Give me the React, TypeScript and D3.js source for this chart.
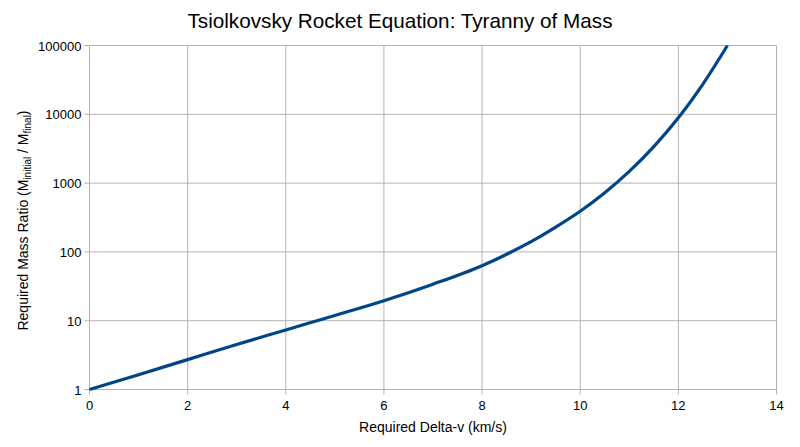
import React from "react";
import * as d3 from "d3";

const deltaV = [0, 1, 2, 3, 4, 5, 6, 7, 8, 9, 9.5, 10, 10.5, 11, 11.5, 12, 12.5, 13];
const massRatio = [1, 1.64, 2.72, 4.52, 7.33, 11.9, 19.5, 33.9, 63, 141, 229, 389, 724, 1480, 3390, 8900, 27500, 100000];
const xTicks = [0, 2, 4, 6, 8, 10, 12, 14];
const yTicks = [1, 10, 100, 1000, 10000, 100000];

const W = 800;
const H = 447;
const M = { left: 89.5, right: 776.5, top: 45.5, bottom: 389.5 };
const FONT = "'Liberation Sans', Arial, Helvetica, sans-serif";

export default function App() {
  const x = d3.scaleLinear().domain([0, 14]).range([M.left, M.right]);
  const y = d3.scaleLog().domain([1, 100000]).range([M.bottom, M.top]);
  const pts = deltaV.map((d, i) => [d, massRatio[i]] as [number, number]);
  const line = d3
    .line<[number, number]>()
    .x((d) => x(d[0]))
    .y((d) => y(d[1]))
    .curve(d3.curveCatmullRom.alpha(0.5));
  const grid = "#b3b3b3";
  return (
    <svg width={W} height={H} style={{ position: "absolute", left: 0, top: 0 }} fontFamily={FONT}>
      <rect width={W} height={H} fill="#fff" />
      {xTicks.map((t) => (
        <line key={"gx" + t} x1={x(t)} x2={x(t)} y1={M.top} y2={M.bottom + 5} stroke={grid} strokeWidth={1} />
      ))}
      {yTicks.map((t) => (
        <line key={"gy" + t} x1={M.left - 5} x2={M.right} y1={y(t)} y2={y(t)} stroke={grid} strokeWidth={1} />
      ))}
      {xTicks.map((t) => (
        <text key={"tx" + t} x={x(t)} y={M.bottom + 20} textAnchor="middle" fontSize={13} fill="#000">
          {t}
        </text>
      ))}
      {yTicks.map((t) => (
        <text key={"ty" + t} x={M.left - 8} y={y(t) + 5} textAnchor="end" fontSize={13} fill="#000">
          {t}
        </text>
      ))}
      <path d={line(pts) || ""} fill="none" stroke="#004586" strokeWidth={3.2} strokeLinejoin="round" />
      <text x={400} y={28} textAnchor="middle" fontSize={20.7} fill="#000">
        Tsiolkovsky Rocket Equation: Tyranny of Mass
      </text>
      <text x={(M.left + M.right) / 2} y={432} textAnchor="middle" fontSize={14} fill="#000">
        Required Delta-v (km/s)
      </text>
      <text
        transform={`translate(28, ${(M.top + M.bottom) / 2 + 3}) rotate(-90)`}
        textAnchor="middle"
        fontSize={14}
        fill="#000"
      >
        Required Mass Ratio (M
        <tspan fontSize={10} dy={3}>initial</tspan>
        <tspan dy={-3}> / M</tspan>
        <tspan fontSize={10} dy={3}>final</tspan>
        <tspan dy={-3}>)</tspan>
      </text>
    </svg>
  );
}
